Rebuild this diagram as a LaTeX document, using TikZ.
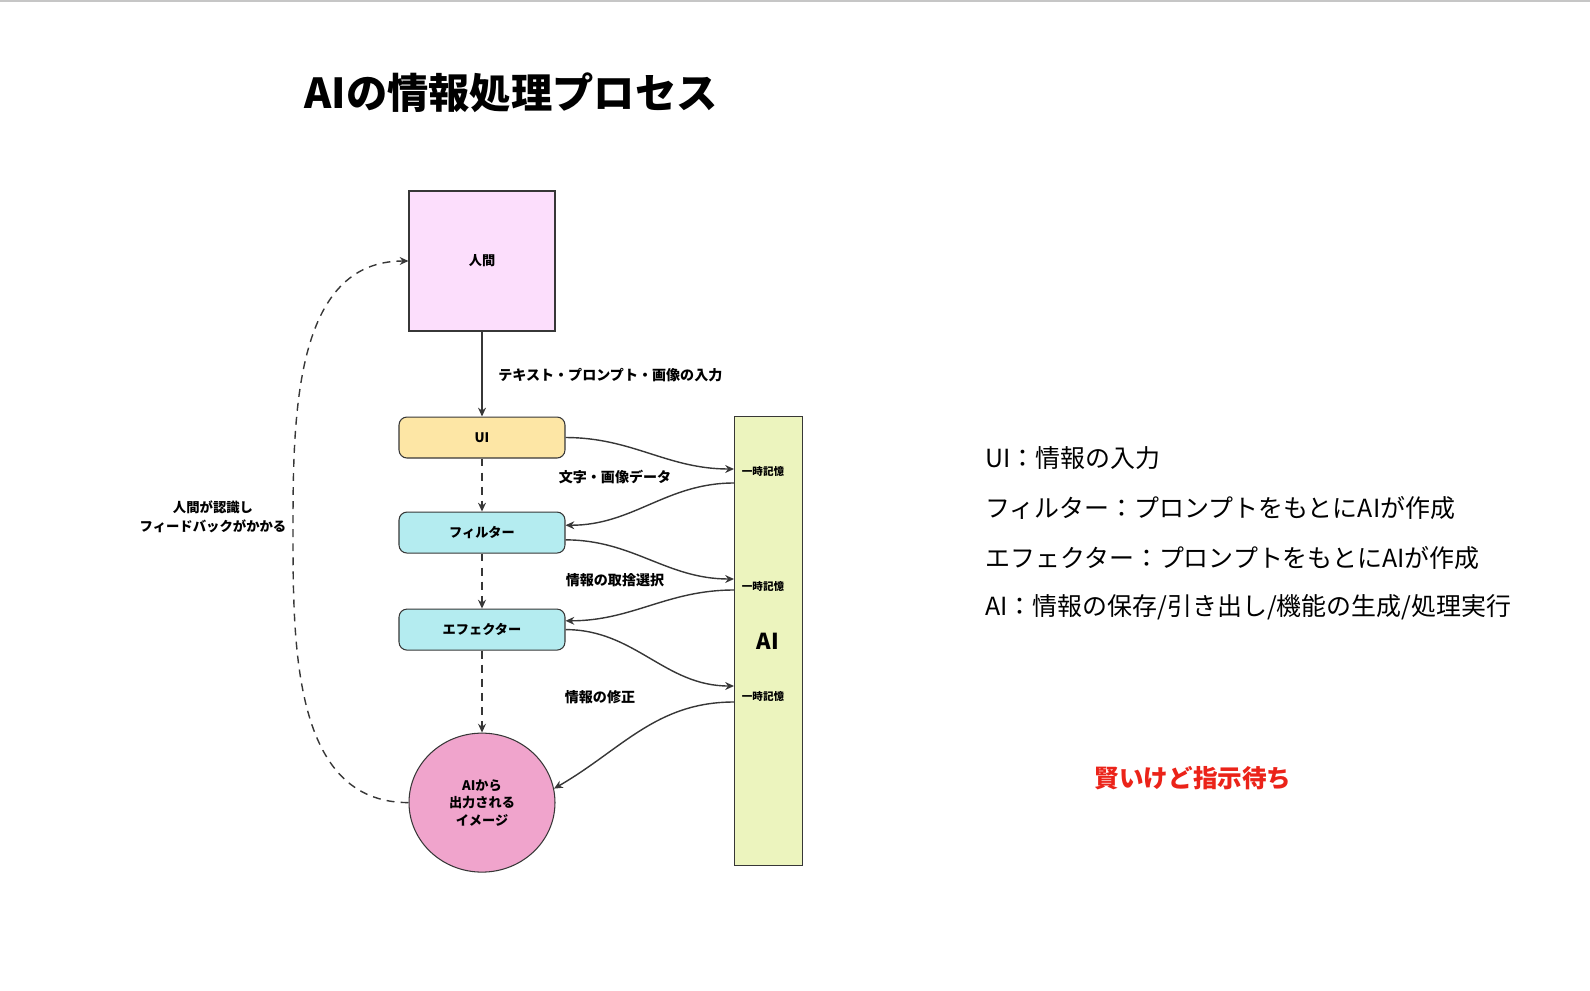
\documentclass[tikz,border=0pt]{standalone}
\usepackage{fontspec}
\setmainfont{Noto Sans CJK JP}
\usetikzlibrary{positioning,arrows.meta,shapes.geometric}
\definecolor{linegray}{RGB}{55,55,55}
\definecolor{humanpink}{RGB}{252,222,252}
\definecolor{uiyellow}{RGB}{253,230,165}
\definecolor{proccyan}{RGB}{180,236,240}
\definecolor{aigreen}{RGB}{236,244,190}
\definecolor{outpink}{RGB}{240,164,204}
\definecolor{alertred}{RGB}{235,35,25}

\begin{document}
\begin{tikzpicture}[x=0.02cm,y=-0.02cm,
			box/.style={draw=linegray, line width=0.6pt, align=center, inner sep=0pt, font=\fontsize{7.5}{10}\selectfont\bfseries},
			proc/.style={box, rounded corners=0.16cm, minimum width=3.32cm, minimum height=0.82cm},
			arrow/.style={-{Stealth[length=5pt,width=4.5pt]}, line width=0.8pt, draw=linegray},
			flow/.style={arrow, dash pattern=on 4.5pt off 3.5pt},
			lbl/.style={inner sep=0pt, font=\fontsize{8}{10}\selectfont\bfseries},
			memo/.style={inner sep=0pt, font=\fontsize{6}{7}\selectfont\bfseries},
			note/.style={anchor=west, inner sep=0pt, font=\fontsize{14.2}{16}\selectfont}
		]
		\useasboundingbox (0,0) rectangle (1590,991);
		\draw[gray!45, line width=1.2pt] (0,1) -- (1590,1);

		% Title
		\node[font=\fontsize{23.5}{26}\selectfont\bfseries] (title) at (511,93) {AIの情報処理プロセス};

		% Main flow
		\node[box, fill=humanpink, minimum width=2.92cm, minimum height=2.8cm] (human) at (482,261) {人間};
		\node[proc, fill=uiyellow, below=1.7cm of human] (ui) {UI};
		\node[proc, fill=proccyan, below=1.06cm of ui] (filter) {フィルター};
		\node[proc, fill=proccyan, below=1.1cm of filter] (effector) {エフェクター};
		\node[box, ellipse, fill=outpink, minimum width=2.92cm, minimum height=2.78cm, below=1.64cm of effector] (output) {AIから\\出力される\\イメージ};

		% AI
		\node[draw=linegray, line width=0.6pt, fill=aigreen, anchor=north west, minimum width=1.36cm, minimum height=8.98cm, inner sep=0pt] (ai) at (734,416) {};
		\node[font=\fontsize{12.5}{14}\selectfont\bfseries] (ailabel) at (768,641) {AI};
		\coordinate (mem1in) at (734,469);
		\coordinate (mem1out) at (734,483);
		\coordinate (mem2in) at (734,579);
		\coordinate (mem2out) at (734,590);
		\coordinate (mem3in) at (734,686);
		\coordinate (mem3out) at (734,702);
		\node[memo] (mem1) at (763,471) {一時記憶};
		\node[memo] (mem2) at (763,586) {一時記憶};
		\node[memo] (mem3) at (763,696) {一時記憶};

		% Arrows
		\draw[arrow] (human) -- (ui);
		\draw[flow] (ui) -- (filter);
		\draw[flow] (filter) -- (effector);
		\draw[flow] (effector) -- (output);
		\draw[arrow] (ui.east) to[out=0, in=180] (mem1in);
		\draw[arrow] (mem1out) to[out=180, in=0] (filter.5);
		\draw[arrow] (filter.-5) to[out=0, in=180] (mem2in);
		\draw[arrow] (mem2out) to[out=180, in=0] (effector.6);
		\draw[arrow] (effector.east) to[out=0, in=180] (mem3in);
		\draw[arrow] (mem3out) to[out=180, in=30] (output.11);
		\draw[flow] (output.west) to[out=180, in=-90] (293,530) to[out=90, in=180] (human.west);

		% Labels
		\node[lbl, anchor=west] (inputlabel) at (498,375) {テキスト・プロンプト・画像の入力};
		\node[lbl] (datalabel) at (615,477) {文字・画像データ};
		\node[lbl] (selectlabel) at (615,580) {情報の取捨選択};
		\node[lbl] (fixlabel) at (600,697) {情報の修正};
		\node[lbl, align=center, font=\fontsize{7.6}{10.5}\selectfont\bfseries] (feedback) at (213,517) {人間が認識し\\フィードバックがかかる};

		% Notes
		\node[note] (note1) at (985,458) {UI：情報の入力};
		\node[note] (note2) at (985,508) {フィルター：プロンプトをもとにAIが作成};
		\node[note] (note3) at (985,558) {エフェクター：プロンプトをもとにAIが作成};
		\node[note] (note4) at (985,607) {AI：情報の保存/引き出し/機能の生成/処理実行};
		\node[font=\fontsize{14}{16}\selectfont\bfseries, text=alertred] (remark) at (1193,778) {賢いけど指示待ち};
	\end{tikzpicture}
\end{document}
